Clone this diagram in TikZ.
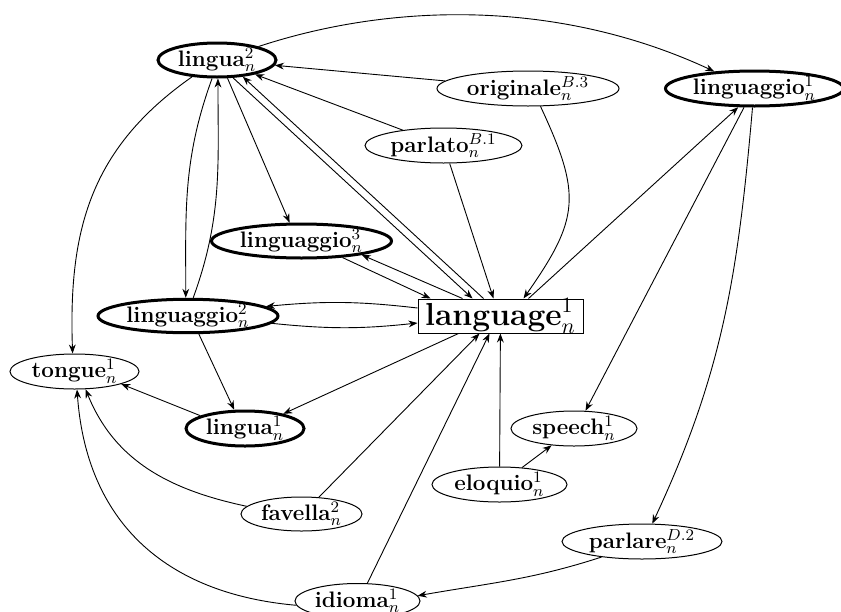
\documentclass[tikz,border=0pt]{standalone}
\usetikzlibrary{shapes.geometric,arrows.meta,calc}
\begin{document}
\begin{tikzpicture}[x=0.5pt,y=-0.5pt,
  base/.style={font=\fontsize{11.2}{13}\selectfont, inner sep=0pt},
  el/.style 2 args={base, ellipse, draw, line width=0.5pt, minimum width=#1pt, minimum height=#2pt},
  thk/.style={line width=1.5pt},
  labox/.style={draw, line width=0.5pt, rectangle, font=\fontsize{15.9}{18}\selectfont, inner xsep=1.2pt, inner ysep=0pt, text height=13pt, text depth=4pt, minimum width=82.5pt},
  arr/.style={-{Stealth[length=4.5pt,width=3.4pt]}, line width=0.45pt}]
\useasboundingbox (0,0) rectangle (841,611);

\node[el={59}{17},thk] (L2) at (217,60) {\textbf{lingua}$^2_n$};
\node[el={91}{17.5}] (OR) at (528,88.5) {\textbf{originale}$^{B.3}_n$};
\node[el={89}{17.5},thk] (LG1) at (754.5,88.5) {\textbf{linguaggio}$^1_n$};
\node[el={78.5}{17.5}] (PA) at (443.5,145.5) {\textbf{parlato}$^{B.1}_n$};
\node[el={90}{17},thk] (LG3) at (301.5,241) {\textbf{linguaggio}$^3_n$};
\node[el={90}{16.5},thk] (LG2) at (188,316) {\textbf{linguaggio}$^2_n$};
\node[labox] (LA) at (500.5,316) {\textbf{language}$^1_n$};
\node[el={64.5}{17.5}] (TO) at (74.5,371.5) {\textbf{tongue}$^1_n$};
\node[el={59}{17.5},thk] (L1) at (245,428.5) {\textbf{lingua}$^1_n$};
\node[el={63}{17.5}] (SP) at (574,428.5) {\textbf{speech}$^1_n$};
\node[el={67.5}{17.5}] (EL) at (499.5,484.5) {\textbf{eloquio}$^1_n$};
\node[el={60.5}{17}] (FA) at (301.5,514) {\textbf{favella}$^2_n$};
\node[el={80}{17.5}] (PR) at (642,541.5) {\textbf{parlare}$^{D.2}_n$};
\node[el={62.5}{17.5}] (ID) at (357.5,601) {\textbf{idioma}$^1_n$};

\draw[arr] (L2.18) .. controls (400,0) and (565,2) .. (LG1.157);
\draw[arr] (OR) -- (L2);
\draw[arr] (PA) -- (L2);
\draw[arr] ($(LA.north)+(-17,0)$) -- (L2.-33);
\draw[arr] (L2.-48) -- ($(LA.north)+(-28,0)$);
\draw[arr] (L2.-60) -- (LG3.123);
\draw[arr] (L2.-105) to[out=-110,in=90] (LG2.97);
\draw[arr] (LG2.74) to[out=70,in=-90] (L2.-87);
\draw[arr] (L2.-146) to[out=-145,in=92,looseness=1.05] (TO.96);
\draw[arr] (OR.-55) to[out=-65,in=55,looseness=1.3] ($(LA.north)+(23,0)$);
\draw[arr] (PA.-71) -- ($(LA.north)+(-7,0)$);
\draw[arr] ($(LA.north)+(28,0)$) -- (LG1.-131);
\draw[arr] (LG1.-119) -- (SP.57);
\draw[arr] (LG1.-96) to[out=-95,in=65] (PR.60);
\draw[arr] (LG3.-22) -- ($(LA.north)+(-70,0)$);
\draw[arr] ($(LA.north)+(-38,0)$) -- (LG3.-13);
\draw[arr] ($(LA.west)+(0,-8)$) to[bend right=6] (LG2.7);
\draw[arr] (LG2.-5) to[bend right=6] ($(LA.west)+(0,7)$);
\draw[arr] (LG2.-59) -- (L1.120);
\draw[arr] ($(LA.south)+(-42,0)$) -- (L1.21);
\draw[arr] (L1.164) -- (TO.-15);
\draw[arr] (FA.172) to[out=168,in=-68] (TO.-58);
\draw[arr] (FA.44) -- ($(LA.south)+(-21,0)$);
\draw[arr] (ID.61) -- ($(LA.south)+(-11,0)$);
\draw[arr] (ID.-176) to[out=175,in=-86,looseness=1.1] (TO.-82);
\draw[arr] (EL) -- (LA);
\draw[arr] (EL) -- (SP);
\draw[arr] (PR.-159) to[out=-162,in=10] (ID.5);
\end{tikzpicture}
\end{document}
